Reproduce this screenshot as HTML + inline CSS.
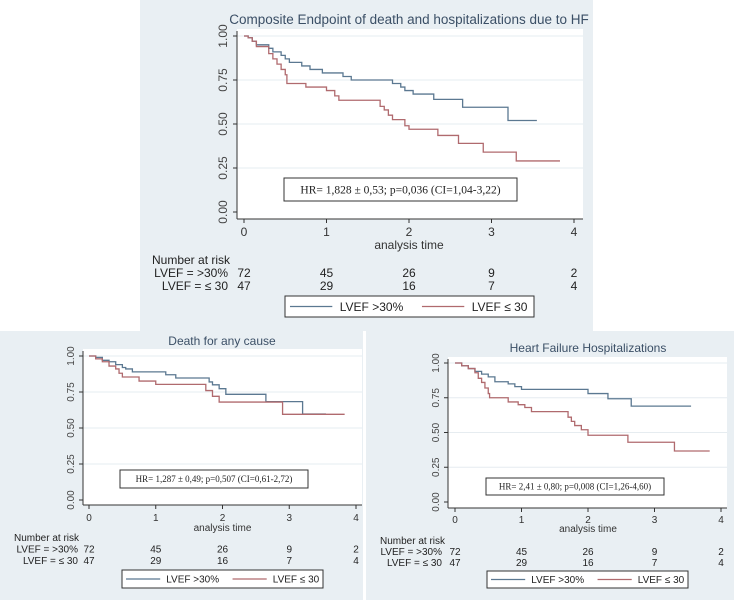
<!DOCTYPE html>
<html><head><meta charset="utf-8"><style>
body{margin:0;background:#fff}
svg{display:block;font-family:"Liberation Sans",sans-serif}
</style></head><body>
<svg id="s" width="734" height="600" viewBox="0 0 734 600">
<rect x="0" y="0" width="734" height="600" fill="#fff"/>
<rect x="140" y="0" width="453" height="331" fill="#e9eff3"/>
<rect x="0" y="331" width="363" height="269" fill="#e9eff3"/>
<rect x="366" y="331" width="368" height="269" fill="#e9eff3"/>
</svg>
<script>
// Shared risk table
const riskTimes=[0,1,2,3,4];
const riskHigh=[72,45,26,9,2];
const riskLow=[47,29,16,7,4];
const yTicks=[0,0.25,0.5,0.75,1];
const yTickLabels=["0.00","0.25","0.50","0.75","1.00"];
const xTicks=[0,1,2,3,4];
// Composite endpoint
const compBlueT=[0,0.05,0.1,0.15,0.3,0.35,0.45,0.5,0.55,0.7,0.8,0.95,1.2,1.3,1.8,1.9,1.95,2.05,2.3,2.65,3.2];
const compBlueS=[1,0.99,0.97,0.95,0.93,0.91,0.89,0.87,0.85,0.83,0.81,0.79,0.77,0.75,0.73,0.71,0.69,0.67,0.64,0.595,0.52];
const compBlueEnd=3.55;
const compRedT=[0,0.05,0.1,0.15,0.3,0.35,0.4,0.45,0.5,0.52,0.75,1.0,1.1,1.15,1.65,1.7,1.75,1.8,1.95,2.0,2.35,2.6,2.9,3.3];
const compRedS=[1,0.99,0.97,0.94,0.90,0.87,0.84,0.81,0.78,0.73,0.71,0.69,0.66,0.635,0.60,0.58,0.55,0.525,0.49,0.47,0.435,0.39,0.34,0.29];
const compRedEnd=3.83;
// Death for any cause
const deathBlueT=[0,0.1,0.2,0.3,0.4,0.5,0.55,0.65,1.15,1.3,1.8,1.85,1.95,2.05,2.65,3.2];
const deathBlueS=[1,0.99,0.97,0.96,0.94,0.92,0.91,0.89,0.87,0.847,0.82,0.80,0.773,0.734,0.683,0.597];
const deathBlueEnd=3.55;
const deathRedT=[0,0.1,0.2,0.3,0.4,0.45,0.5,0.75,1.0,1.75,1.85,1.95,2.9];
const deathRedS=[1,0.98,0.96,0.93,0.91,0.88,0.854,0.826,0.803,0.76,0.72,0.68,0.595];
const deathRedEnd=3.83;
// Heart failure hospitalizations
const hfBlueT=[0,0.1,0.2,0.3,0.4,0.5,0.6,0.8,0.9,1.0,2.0,2.3,2.65];
const hfBlueS=[1,0.98,0.96,0.94,0.92,0.90,0.865,0.85,0.83,0.81,0.78,0.743,0.69];
const hfBlueEnd=3.55;
const hfRedT=[0,0.1,0.2,0.3,0.35,0.4,0.45,0.5,0.52,0.8,0.95,1.05,1.15,1.7,1.75,1.8,1.9,2.0,2.6,3.3];
const hfRedS=[1,0.98,0.96,0.93,0.89,0.86,0.82,0.78,0.75,0.72,0.70,0.68,0.65,0.61,0.58,0.55,0.52,0.48,0.43,0.367];
const hfRedEnd=3.83;

const NS="http://www.w3.org/2000/svg";
const svg=document.getElementById('s');
function mk(tag,attrs,parent,text){const e=document.createElementNS(NS,tag);for(const k in attrs)e.setAttribute(k,attrs[k]);if(text!==undefined)e.textContent=text;(parent||svg).appendChild(e);return e;}

function panel(c){
  const g=mk('g',{});
  
  
  const xs=t=>c.x0+(c.x4-c.x0)*t/4;
  const ys=v=>c.y0+(c.y1-c.y0)*v;
  const pa=mk('rect',{x:c.ax,y:c.top,width:c.right-c.ax,height:c.axY-c.top,fill:'#fff'},g);
  
  
  yTicks.forEach((v,i)=>{
    if(v>0){const gl=mk('line',{x1:c.ax,x2:c.right,y1:ys(v),y2:ys(v),stroke:'#e6ecf0','stroke-width':1},g);
    }
    mk('line',{x1:c.ax-4,x2:c.ax,y1:ys(v),y2:ys(v),stroke:'#333'},g);
    const lx=c.ax-c.ylo;
    const t=mk('text',{x:lx,y:ys(v),'font-size':c.fs,fill:'#444','text-anchor':'middle',transform:`rotate(-90 ${lx} ${ys(v)})`},g,yTickLabels[i]);
    
  });
  mk('line',{x1:c.ax,x2:c.ax,y1:c.top+2,y2:c.axY,stroke:'#333'},g);
  mk('line',{x1:c.ax,x2:c.right,y1:c.axY,y2:c.axY,stroke:'#333'},g);
  xTicks.forEach(t=>{
    mk('line',{x1:xs(t),x2:xs(t),y1:c.axY,y2:c.axY+4,stroke:'#333'},g);
    const tl=mk('text',{x:xs(t),y:c.tickY,'font-size':c.fs,fill:'#333','text-anchor':'middle'},g,String(t));
    
  });
  const xt=mk('text',{x:xs(2),y:c.xtY,'font-size':c.fs,fill:'#333','text-anchor':'middle'},g,'analysis time');
  
  const ti=mk('text',{x:c.titleX,y:c.titleY,'font-size':c.tfs,fill:'#3b4f66','text-anchor':'middle'},g,c.title);
  
  function curve(T,S,end,col,nm){
    let d=`M${xs(T[0])},${ys(S[0])}`;
    for(let i=1;i<T.length;i++){d+=`H${xs(T[i])}V${ys(S[i])}`;}
    d+=`H${xs(end)}`;
    const p=mk('path',{d:d,fill:'none',stroke:col,'stroke-width':1.3},g);
    
  }
  curve(c.bT,c.bS,c.bE,'#5b7891','curve-lvef-above-30');
  curve(c.rT,c.rS,c.rE,'#b06a6e','curve-lvef-below-30');
  const hb=mk('rect',{x:c.hr[0],y:c.hr[1],width:c.hr[2]-c.hr[0],height:c.hr[3]-c.hr[1],fill:'#fff',stroke:'#333'},g);
  
  const ht=mk('text',{x:(c.hr[0]+c.hr[2])/2,y:(c.hr[1]+c.hr[3])/2+c.hfs*0.35,'font-size':c.hfs,'font-family':'Liberation Serif,serif',fill:'#222','text-anchor':'middle'},g,c.hrText);
  
  const nr=mk('text',{x:c.nrX,y:c.nrY,'font-size':c.fs,fill:'#222'},g,'Number at risk');
  
  const l1=mk('text',{x:c.labR,y:c.nrY+c.rowH,'font-size':c.fs,fill:'#222','text-anchor':'end'},g,'LVEF = >30%');
  
  const l2=mk('text',{x:c.labR,y:c.nrY+2*c.rowH,'font-size':c.fs,fill:'#222','text-anchor':'end'},g,'LVEF = \u2264 30');
  
  riskTimes.forEach((t,i)=>{
    const a=mk('text',{x:xs(t),y:c.nrY+c.rowH,'font-size':c.fs,fill:'#222','text-anchor':'middle'},g,String(riskHigh[i]));
    
    const b=mk('text',{x:xs(t),y:c.nrY+2*c.rowH,'font-size':c.fs,fill:'#222','text-anchor':'middle'},g,String(riskLow[i]));
    
  });
  const L=c.leg;
  const lb=mk('rect',{x:L[0],y:L[1],width:L[2]-L[0],height:L[3]-L[1],fill:'#fff',stroke:'#333'},g);
  
  const w=L[2]-L[0], my=(L[1]+L[3])/2;
  mk('line',{x1:L[0]+w*0.02,x2:L[0]+w*0.19,y1:my,y2:my,stroke:'#5b7891','stroke-width':1.3},g);
  const e1=mk('text',{x:L[0]+w*0.22,y:my+c.fs*0.36,'font-size':c.fs,fill:'#222'},g,'LVEF >30%');
  
  mk('line',{x1:L[0]+w*0.55,x2:L[0]+w*0.72,y1:my,y2:my,stroke:'#b06a6e','stroke-width':1.3},g);
  const e2=mk('text',{x:L[0]+w*0.75,y:my+c.fs*0.36,'font-size':c.fs,fill:'#222'},g,'LVEF \u2264 30');
  
}

panel({name:'composite-endpoint-chart',x0:244,x4:574,y0:212,y1:36,ax:237,right:583,top:29,axY:219,ylo:10,
  fs:12,tfs:13.5,hfs:11.5,tickY:236,xtY:249,titleX:409,titleY:24,title:'Composite Endpoint of death and hospitalizations due to HF',
  bT:compBlueT,bS:compBlueS,bE:compBlueEnd,rT:compRedT,rS:compRedS,rE:compRedEnd,
  hr:[284,178,517,201],hrText:'HR= 1,828 \u00b1 0,53; p=0,036 (CI=1,04-3,22)',
  nrX:152,nrY:264,rowH:13,labR:228,leg:[285,296,534,317]});
panel({name:'death-any-cause-chart',x0:89,x4:356,y0:500,y1:356,ax:83,right:362,top:349,axY:505,ylo:9,
  fs:10,tfs:12,hfs:9,tickY:521,xtY:531,titleX:222,titleY:345,title:'Death for any cause',
  bT:deathBlueT,bS:deathBlueS,bE:deathBlueEnd,rT:deathRedT,rS:deathRedS,rE:deathRedEnd,
  hr:[120,470,308,488],hrText:'HR= 1,287 \u00b1 0,49; p=0,507 (CI=0,61-2,72)',
  nrX:14,nrY:541,rowH:11.5,labR:78,leg:[122,570,323,588]});
panel({name:'hf-hospitalizations-chart',x0:455,x4:721,y0:502,y1:363,ax:448,right:727,top:357,axY:508,ylo:9,
  fs:10,tfs:12,hfs:9,tickY:523,xtY:532,titleX:588,titleY:352,title:'Heart Failure Hospitalizations',
  bT:hfBlueT,bS:hfBlueS,bE:hfBlueEnd,rT:hfRedT,rS:hfRedS,rE:hfRedEnd,
  hr:[486,478,664,495],hrText:'HR= 2,41 \u00b1 0,80; p=0,008 (CI=1,26-4,60)',
  nrX:380,nrY:544,rowH:11,labR:442,leg:[487,571,688,588]});
</script>
</body></html>
